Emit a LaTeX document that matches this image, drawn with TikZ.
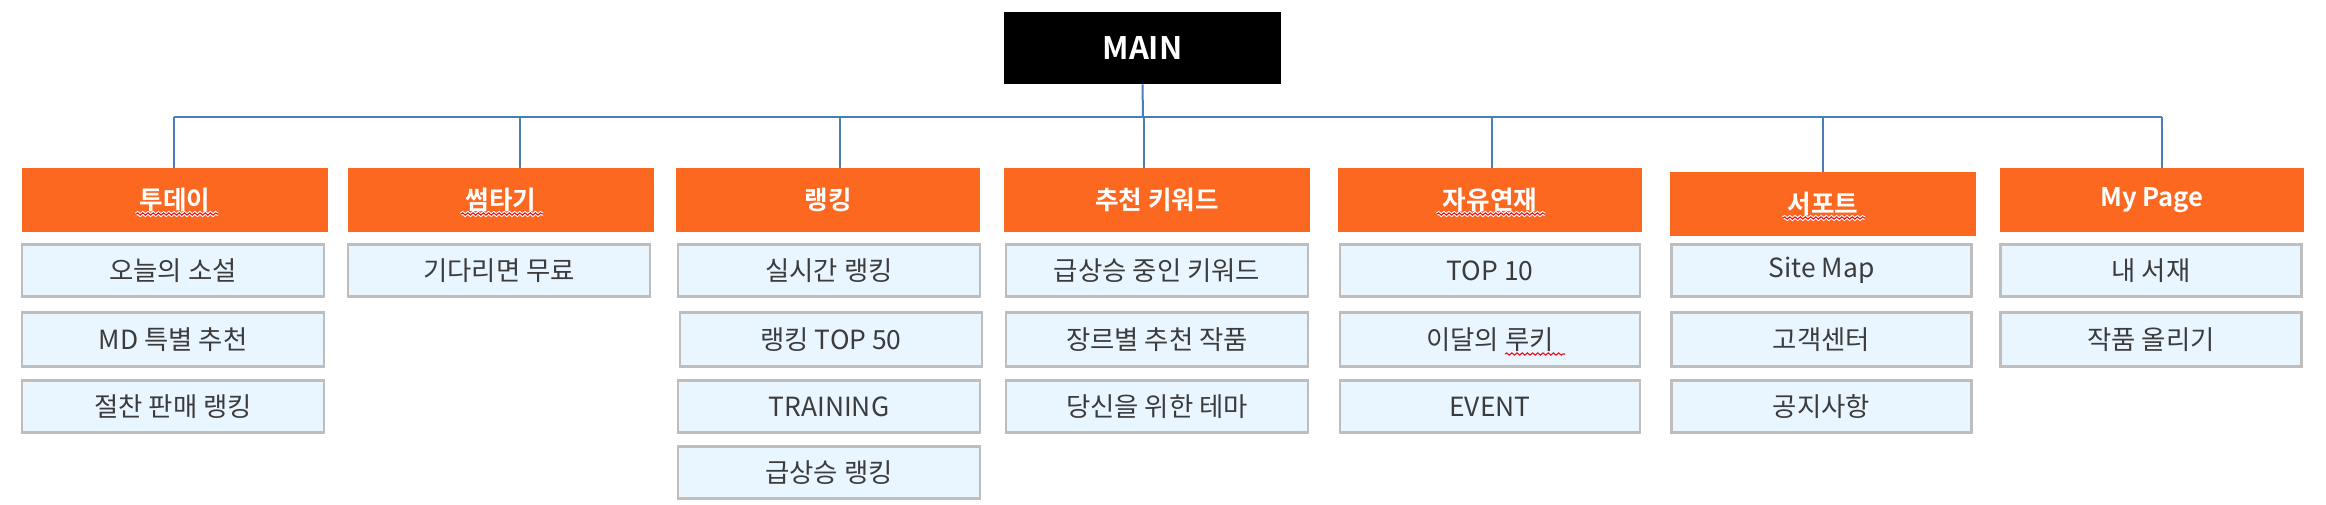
\documentclass[tikz,border=0pt]{standalone}
\usepackage{fontspec}
\setmainfont{Noto Sans CJK KR}
\newfontfamily\krbold{Noto Sans CJK KR Bold}
\usetikzlibrary{decorations.pathmorphing}
\definecolor{hdrorange}{HTML}{FD6821}
\definecolor{linkblue}{HTML}{4A7EBB}
\definecolor{itemfill}{HTML}{EAF6FF}
\definecolor{itemborder}{HTML}{BEBEBE}
\definecolor{itemtext}{HTML}{3C3C3C}
\definecolor{squigred}{HTML}{E8101A}
\tikzset{
  mainbox/.style={fill=black, draw=none, inner sep=0pt, minimum width=138.5pt, minimum height=36pt,
    text=white, font=\krbold\fontsize{15.5}{18}\selectfont},
  hdr/.style={fill=hdrorange, draw=none, inner sep=0pt, minimum height=32pt,
    text=white, font=\krbold\fontsize{12.8}{15}\selectfont},
  item/.style={fill=itemfill, draw=itemborder, line width=1.3pt, inner sep=0pt,
    minimum height=25.8pt, text=itemtext, font=\fontsize{13.2}{15}\selectfont},
  conn/.style={draw=linkblue, line width=1pt},
  squig/.style={draw=squigred, line width=0.55pt, decorate,
    decoration={snake, amplitude=0.55pt, segment length=2.6pt}},
  squigbg/.style={draw=white, line width=1.6pt, decorate,
    decoration={snake, amplitude=0.55pt, segment length=2.6pt}},
}
\begin{document}
\begin{tikzpicture}[x=0.5pt, y=-0.5pt]
\useasboundingbox (0,0) rectangle (2326,504);
% main
\node[mainbox] (main) at (1142.5,48) {MAIN};
% headers
\node[hdr, minimum width=153pt] (h1) at (175,200) {투데이};
\node[hdr, minimum width=153pt] (h2) at (501,200) {썸타기};
\node[hdr, minimum width=152pt] (h3) at (828,200) {랭킹};
\node[hdr, minimum width=153pt] (h4) at (1157,200) {추천 키워드};
\node[hdr, minimum width=152pt] (h5) at (1490,200) {자유연재};
\node[hdr, minimum width=153pt] (h6) at (1823,204) {서포트};
\node[hdr, minimum width=152pt] (h7) at (2152,200) {My Page};
% bus coordinates
\coordinate (bmain) at (1143,117);
\coordinate (b1) at (173.5,117);
\coordinate (b2) at (519.5,117);
\coordinate (b3) at (839.5,117);
\coordinate (b4) at (1143.5,117);
\coordinate (b5) at (1491.5,117);
\coordinate (b6) at (1823,117);
\coordinate (b7) at (2162,117);
\draw[conn] (main.south) -- (bmain);
\draw[conn] (b1) -- (b7);
\draw[conn] (b1) -- (b1 |- h1.north);
\draw[conn] (b2) -- (b2 |- h2.north);
\draw[conn] (b3) -- (b3 |- h3.north);
\draw[conn] (b4) -- (b4 |- h4.north);
\draw[conn] (b5) -- (b5 |- h5.north);
\draw[conn] (b6) -- (b6 |- h6.north);
\draw[conn] (b7) -- (b7 |- h7.north);
% column 1
\node[item, minimum width=151pt] (c11) at (173,270.5) {오늘의 소설};
\node[item, minimum width=151pt, minimum height=26.8pt] (c12) at (173,339.5) {MD 특별 추천};
\node[item, minimum width=151pt] (c13) at (173,406.5) {절찬 판매 랭킹};
% column 2
\node[item, minimum width=151pt] (c21) at (499,270.5) {기다리면 무료};
% column 3
\node[item, minimum width=151pt] (c31) at (829,270.5) {실시간 랭킹};
\node[item, minimum width=151pt, minimum height=26.8pt] (c32) at (831,339.5) {랭킹 TOP 50};
\node[item, minimum width=151pt] (c33) at (829,406.5) {TRAINING};
\node[item, minimum width=151pt] (c34) at (829,472.5) {급상승 랭킹};
% column 4
\node[item, minimum width=151pt] (c41) at (1157,270.5) {급상승 중인 키워드};
\node[item, minimum width=151pt, minimum height=26.8pt] (c42) at (1157,339.5) {장르별 추천 작품};
\node[item, minimum width=151pt] (c43) at (1157,406.5) {당신을 위한 테마};
% column 5
\node[item, minimum width=150pt] (c51) at (1490,270.5) {TOP 10};
\node[item, minimum width=150pt, minimum height=26.8pt] (c52) at (1490,339.5) {이달의 루키};
\node[item, minimum width=150pt] (c53) at (1490,406.5) {EVENT};
% column 6
\node[item, minimum width=150pt] (c61) at (1821.5,270.5) {Site Map};
\node[item, minimum width=150pt, minimum height=26.8pt] (c62) at (1821.5,339.5) {고객센터};
\node[item, minimum width=150pt] (c63) at (1821.5,406.5) {공지사항};
% column 7
\node[item, minimum width=150.5pt] (c71) at (2151,270.5) {내 서재};
\node[item, minimum width=150.5pt, minimum height=26.8pt] (c72) at (2151,339.5) {작품 올리기};
% spell-check squiggles
\draw[squigbg] (136,214) -- (218,214);
\draw[squig] (136,214) -- (218,214);
\draw[squigbg] (461,214) -- (543,214);
\draw[squig] (461,214) -- (543,214);
\draw[squigbg] (1437,214) -- (1545,214);
\draw[squig] (1437,214) -- (1545,214);
\draw[squigbg] (1783,218) -- (1865,218);
\draw[squig] (1783,218) -- (1865,218);
\draw[squig] (1505,354) -- (1565,354);
\end{tikzpicture}
\end{document}
